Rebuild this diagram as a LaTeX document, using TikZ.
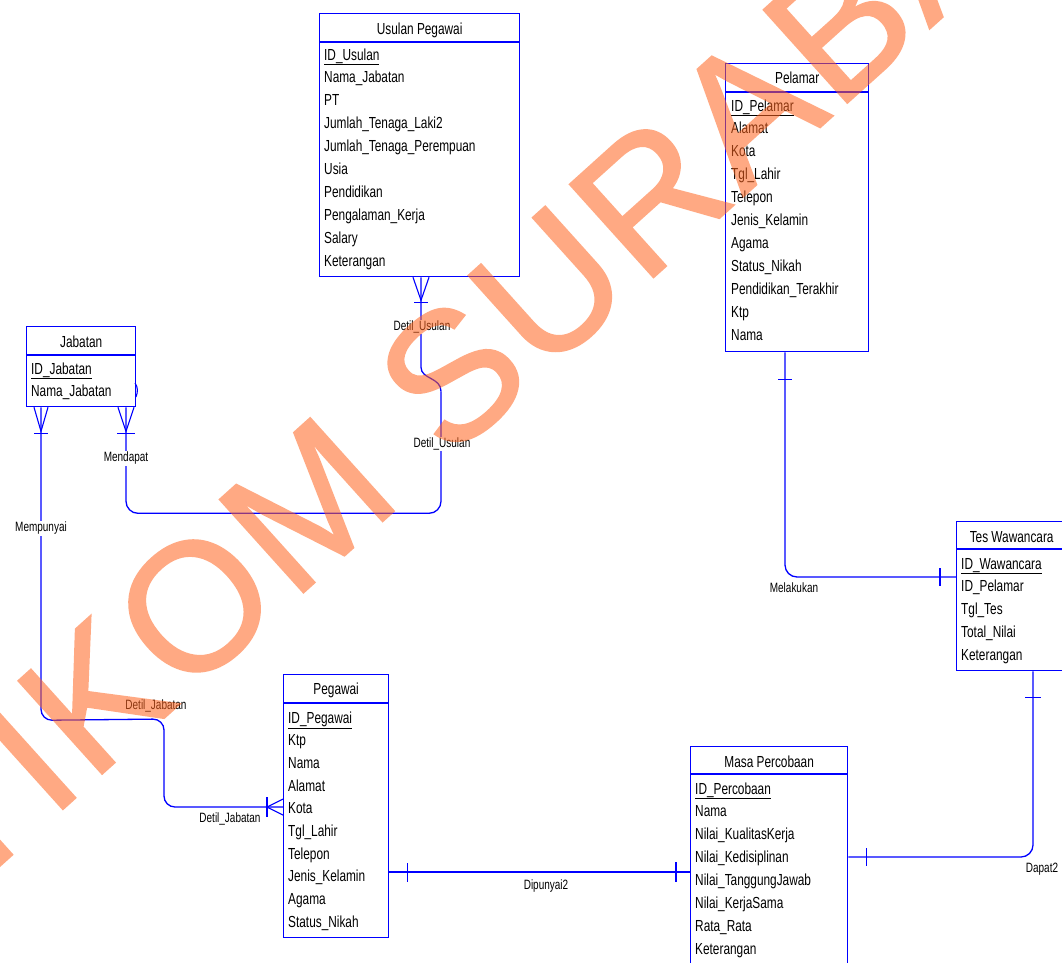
\documentclass[tikz,border=0pt]{standalone}
\usepackage{fontspec}
\newfontfamily\dfont{Liberation Sans}[FakeStretch=0.74]
\newfontfamily\wmfont{Liberation Sans}[FakeBold=1]
\newcommand\wmtrk{\kern4pt}
\usetikzlibrary{calc}
\definecolor{erblue}{RGB}{0,0,255}
\definecolor{wmorange}{RGB}{255,100,30}
\begin{document}
\begin{tikzpicture}[x=1pt,y=-1pt,
  ent/.style={draw=erblue, line width=1.3pt, fill=white, inner sep=0pt, anchor=north west},
  ttl/.style={font=\dfont\fontsize{16}{16}\selectfont, anchor=base, inner sep=0pt},
  attr/.style={font=\dfont\fontsize{16}{16}\selectfont, anchor=base west, inner sep=0pt},
  conn/.style={draw=erblue, line width=1.3pt},
  foot/.style={draw=erblue, line width=1.1pt},
  lbl/.style={font=\dfont\fontsize{13.5}{13.5}\selectfont, fill=white, inner sep=1.2pt},
  wm/.style={font=\wmfont\fontsize{182}{182}\selectfont, text=wmorange, inner sep=0pt, rotate=42}
]
\useasboundingbox (0,0) rectangle (1062,962);
\fill[white] (0,0) rectangle (1062,962);

% ---------------- Usulan Pegawai
\node[ent, minimum width=200pt, minimum height=263pt] (usul) at (319,13) {};
\draw[conn] ($(usul.north west)+(0,29)$) -- ($(usul.north east)+(0,29)$);
\node[ttl] (usul-t) at ($(usul.north)+(0,21)$) {Usulan Pegawai};
\foreach \t [count=\i from 0] in {\underline{ID\_Usulan}, Nama\_Jabatan, PT, Jumlah\_Tenaga\_Laki2, Jumlah\_Tenaga\_Perempuan, Usia, Pendidikan, Pengalaman\_Kerja, Salary, Keterangan}
  \node[attr] (usul-r\i) at (324,{60+22.9*\i}) {\t};

% ---------------- Pelamar
\node[ent, minimum width=143pt, minimum height=288pt] (pel) at (725,63) {};
\draw[conn] ($(pel.north west)+(0,29)$) -- ($(pel.north east)+(0,29)$);
\node[ttl] (pel-t) at ($(pel.north)+(0,20)$) {Pelamar};
\foreach \t [count=\i from 0] in {\underline{ID\_Pelamar}, Alamat, Kota, Tgl\_Lahir, Telepon, Jenis\_Kelamin, Agama, Status\_Nikah, Pendidikan\_Terakhir, Ktp, Nama}
  \node[attr] (pel-r\i) at (731,{111+22.9*\i}) {\t};

% ---------------- Jabatan
\node[ent, minimum width=109pt, minimum height=80pt] (jab) at (26,326) {};
\draw[conn] ($(jab.north west)+(0,29)$) -- ($(jab.north east)+(0,29)$);
\node[ttl] (jab-t) at ($(jab.north)+(0,21)$) {Jabatan};
\foreach \t [count=\i from 0] in {\underline{ID\_Jabatan}, Nama\_Jabatan}
  \node[attr] (jab-r\i) at (31,{374+22.9*\i}) {\t};

% ---------------- Tes Wawancara
\node[ent, minimum width=110pt, minimum height=149pt] (tes) at (956,521) {};
\draw[conn] ($(tes.north west)+(0,28)$) -- ($(tes.north east)+(0,28)$);
\node[ttl] (tes-t) at ($(tes.north)+(0,21)$) {Tes Wawancara};
\foreach \t [count=\i from 0] in {\underline{ID\_Wawancara}, ID\_Pelamar, Tgl\_Tes, Total\_Nilai, Keterangan}
  \node[attr] (tes-r\i) at (961,{569+22.8*\i}) {\t};

% ---------------- Pegawai
\node[ent, minimum width=105pt, minimum height=263pt] (peg) at (283,674) {};
\draw[conn] ($(peg.north west)+(0,29)$) -- ($(peg.north east)+(0,29)$);
\node[ttl] (peg-t) at ($(peg.north)+(0,20)$) {Pegawai};
\foreach \t [count=\i from 0] in {\underline{ID\_Pegawai}, Ktp, Nama, Alamat, Kota, Tgl\_Lahir, Telepon, Jenis\_Kelamin, Agama, Status\_Nikah}
  \node[attr] (peg-r\i) at (288,{723+22.7*\i}) {\t};

% ---------------- Masa Percobaan
\node[ent, minimum width=157pt, minimum height=240pt] (masa) at (690,746) {};
\draw[conn] ($(masa.north west)+(0,28)$) -- ($(masa.north east)+(0,28)$);
\node[ttl] (masa-t) at ($(masa.north)+(0,21)$) {Masa Percobaan};
\foreach \t [count=\i from 0] in {\underline{ID\_Percobaan}, Nama, Nilai\_KualitasKerja, Nilai\_Kedisiplinan, Nilai\_TanggungJawab, Nilai\_KerjaSama, Rata\_Rata, Keterangan}
  \node[attr] (masa-r\i) at (695,{794+22.86*\i}) {\t};

% ---------------- connector end points
\coordinate (uA) at ($(usul.south west)+(102,0)$);
\coordinate (jM) at ($(jab.south west)+(100,0)$);
\coordinate (jP) at ($(jab.south west)+(15,0)$);
\coordinate (pgW) at ($(peg.north west)+(0,133)$);
\coordinate (pgE) at ($(peg.north east)+(0,198)$);
\coordinate (plS) at ($(pel.south west)+(60,0)$);
\coordinate (tsW) at ($(tes.north west)+(0,56)$);
\coordinate (tsS) at ($(tes.south west)+(77,0)$);
\coordinate (msE) at ($(masa.north east)+(0,111)$);
\coordinate (msW) at ($(masa.north west)+(0,126)$);

% Detil_Usulan / Mendapat : Usulan Pegawai -- Jabatan
\draw[conn] (uA) -- ($(uA)+(0,90)$) .. controls ($(uA)+(0,102)$) and ($(uA)+(20,100)$) .. ($(uA)+(20,114)$);
\draw[conn, rounded corners=12pt] ($(uA)+(20,114)$) -- ($(uA)+(20,236)$) -- ($(jM)+(0,106)$) -- (jM);
\draw[foot] ($(uA)+(-8,0)$) -- ($(uA)+(0,23)$) -- ($(uA)+(8,0)$);
\draw[foot] ($(uA)+(-7,25)$) -- ($(uA)+(7,25)$);
\draw[foot] ($(jM)+(-8,0)$) -- ($(jM)+(0,24)$) -- ($(jM)+(8,0)$);
\draw[foot] ($(jM)+(-9,26)$) -- ($(jM)+(9,26)$);
\draw[foot] (135,383) .. controls (138,387) and (138,392) .. (136,397);

% Mempunyai / Detil_Jabatan : Jabatan -- Pegawai
\draw[conn, rounded corners=11pt] (jP) -- ($(jP)+(0,313)$) -- (164,719) -- (164,807) -- (pgW);
\draw[foot] ($(jP)+(-7,0)$) -- ($(jP)+(0,24)$) -- ($(jP)+(7,0)$);
\draw[foot] ($(jP)+(-7,26)$) -- ($(jP)+(7,26)$);
\draw[foot] ($(pgW)+(0,-8)$) -- ($(pgW)+(-16,0)$) -- ($(pgW)+(0,8)$);
\draw[foot] ($(pgW)+(-16,-10)$) -- ($(pgW)+(-16,10)$);

% Melakukan : Pelamar -- Tes Wawancara
\draw[conn, rounded corners=12pt] (plS) |- (tsW);
\draw[foot] ($(plS)+(-7,27)$) -- ($(plS)+(7,27)$);
\draw[foot] ($(tsW)+(-16,-9)$) -- ($(tsW)+(-16,9)$);

% Dapat2 : Tes Wawancara -- Masa Percobaan
\draw[conn, rounded corners=12pt] (tsS) |- (msE);
\draw[foot] ($(tsS)+(-8,26)$) -- ($(tsS)+(8,26)$);
\draw[foot] ($(msE)+(18,-9)$) -- ($(msE)+(18,9)$);

% Dipunyai2 : Pegawai -- Masa Percobaan
\draw[conn] (pgE) -- (msW);
\draw[foot] ($(pgE)+(18,-9)$) -- ($(pgE)+(18,10)$);
\draw[foot] ($(msW)+(-14,-10)$) -- ($(msW)+(-14,10)$);

% ---------------- labels
\node[lbl] (l-du1) at (422,327) {Detil\_Usulan};
\node[lbl] (l-du2) at (442,444) {Detil\_Usulan};
\node[lbl] (l-mdp) at (126,458) {Mendapat};
\node[lbl] (l-mpy) at (41,528) {Mempunyai};
\node[lbl, fill=none] (l-dj1) at (156,706) {Detil\_Jabatan};
\node[lbl, fill=none] (l-dj2) at (230,819) {Detil\_Jabatan};
\node[lbl, fill=none] (l-mlk) at (794,588) {Melakukan};
\node[lbl, fill=none] (l-dp2) at (546,886) {Dipunyai2};
\node[lbl, fill=none] (l-dap) at (1042,869) {Dapat2};

% ---------------- watermark (semi-transparent, on top)
\begin{scope}[transparency group, opacity=0.55]
\node[wm] (wmark) at (497,334) {S\wmtrk T\wmtrk I\wmtrk K\wmtrk O\wmtrk M\wmtrk\ \wmtrk S\wmtrk U\wmtrk R\wmtrk A\wmtrk B\wmtrk A\wmtrk Y\wmtrk A};
\end{scope}
\end{tikzpicture}
\end{document}
